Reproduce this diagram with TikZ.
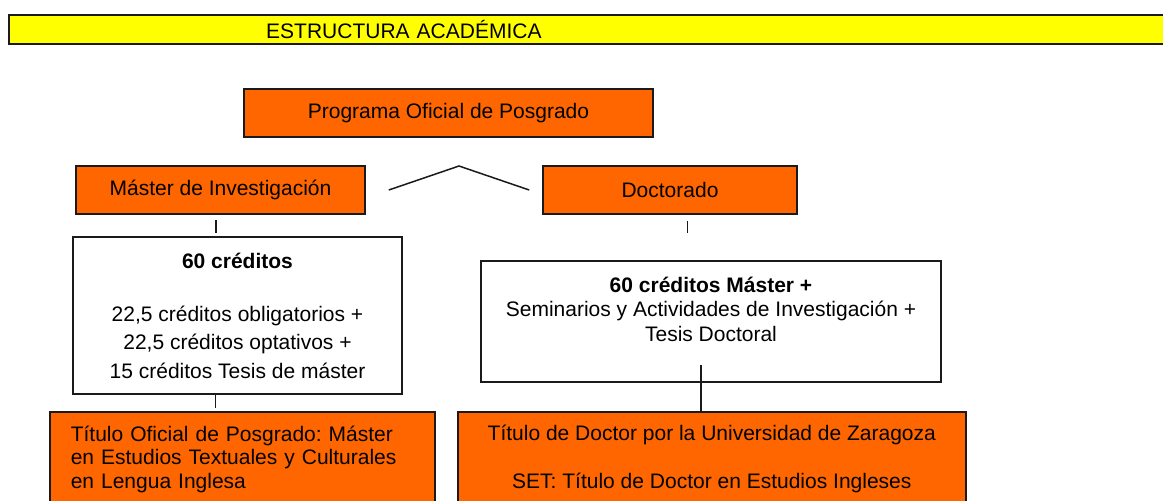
\documentclass[tikz,border=0pt]{standalone}
\usepackage{fontspec}
\setmainfont{Liberation Sans}
\frenchspacing
\definecolor{orangefill}{HTML}{FF6600}
\definecolor{barfill}{HTML}{FFFF00}
\definecolor{edge}{HTML}{1A1A1A}
\begin{document}
\begin{tikzpicture}[x=1pt, y=-1pt,
		box/.style={draw=edge, line width=1.6pt, inner sep=0pt, font=\fontsize{21}{24}\selectfont},
		orangebox/.style={box, fill=orangefill},
		whitebox/.style={box, fill=white, align=center},
		link/.style={draw=edge, line width=1.5pt}]
		\useasboundingbox (0,0) rectangle (1163,501);

		\node[box, fill=barfill, line width=2.4pt, anchor=north west, minimum height=29pt,
			text width=1180pt, align=left] (bar) at (8,14) {\hspace*{257pt}ESTRUCTURA ACADÉMICA};

		\node[orangebox, minimum width=409pt, minimum height=48pt] (prog) at (448.5,113) {Programa Oficial de Posgrado};
		\node[orangebox, minimum width=289pt, minimum height=48pt] (master) at (220.5,190) {Máster de Investigación};
		\node[orangebox, minimum width=254pt, minimum height=48pt] (doct) at (670,190) {Doctorado};
		\coordinate (peak) at (459,166);

		\node[whitebox, minimum width=329pt, minimum height=157pt, font=\fontsize{21}{28.3}\selectfont] (credm) at (237.5,315.5)
			{\textbf{60 créditos}\\[25pt] 22,5 créditos obligatorios +\\ 22,5 créditos optativos +\\ 15 créditos Tesis de máster};
		\node[whitebox, minimum width=460pt, minimum height=121pt, font=\fontsize{21}{24.5}\selectfont] (credd) at (711,321.5)
			{\textbf{60 créditos Máster +}\\ Seminarios y Actividades de Investigación +\\ Tesis Doctoral\\ \mbox{}};

		\node[orangebox, anchor=north west, minimum height=95pt, text width=343pt, inner xsep=21pt, align=left,
			font=\fontsize{21}{23.8}\selectfont] (titm) at (49,411)
			{Título Oficial de Posgrado: Máster\\ en Estudios Textuales y Culturales\\ en Lengua Inglesa};
		\node[orangebox, anchor=north west, minimum width=508pt, minimum height=95pt, align=center] (titd) at (457,411)
			{Título de Doctor por la Universidad de Zaragoza\\[24pt] SET: Título de Doctor en Estudios Ingleses};

		\draw[link] ([xshift=23pt]master.east) -- (peak) -- ([xshift=-13pt]doct.west);
		\draw[link, shorten <=5pt, shorten >=3pt] ([xshift=-4.5pt]master.south) -- ([xshift=-4.5pt]master.south |- credm.north);
		\draw[link, shorten <=6pt, shorten >=27pt] ([xshift=17.7pt]doct.south) -- ([xshift=17.7pt]doct.south |- credd.north);
		\draw[link, shorten >=3pt] ([xshift=-21.8pt]credm.south) -- ([xshift=-21.8pt]credm.south |- titm.north);
		\draw[link] ([xshift=-10pt,yshift=18pt]credd.south) -- ([xshift=-10pt]credd.south |- titd.north);
	\end{tikzpicture}
\end{document}
